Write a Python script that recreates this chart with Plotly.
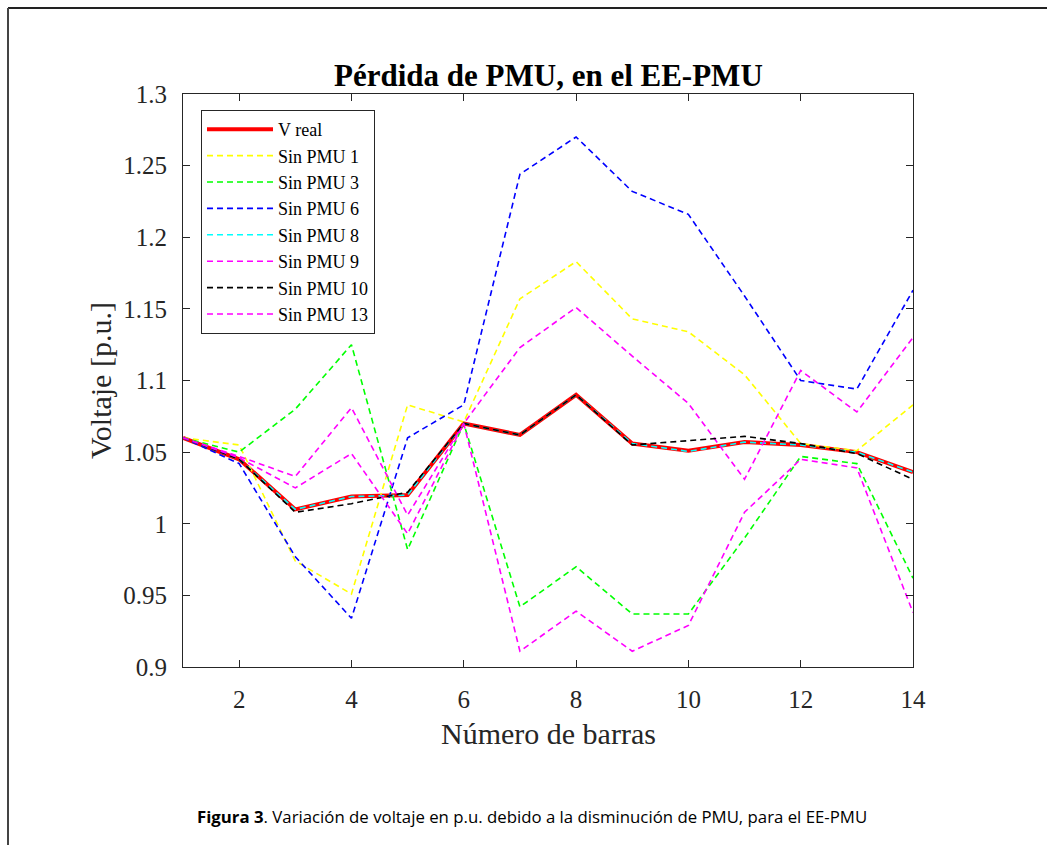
import plotly.graph_objects as go

barras = list(range(1, 15))

v_real     = [1.060, 1.045, 1.010, 1.019, 1.020, 1.070, 1.062, 1.090, 1.056, 1.051, 1.057, 1.055, 1.050, 1.036]
sin_pmu_1  = [1.060, 1.055, 0.974, 0.951, 1.083, 1.071, 1.157, 1.183, 1.143, 1.134, 1.104, 1.056, 1.051, 1.083]
sin_pmu_3  = [1.060, 1.050, 1.080, 1.125, 0.982, 1.070, 0.942, 0.970, 0.937, 0.937, 0.990, 1.047, 1.042, 0.962]
sin_pmu_6  = [1.060, 1.042, 0.977, 0.934, 1.060, 1.083, 1.244, 1.270, 1.232, 1.216, 1.159, 1.100, 1.094, 1.163]
sin_pmu_8  = [1.060, 1.045, 1.010, 1.019, 1.020, 1.070, 1.062, 1.090, 1.056, 1.0505, 1.057, 1.055, 1.050, 1.036]
sin_pmu_9  = [1.060, 1.047, 1.033, 1.081, 1.006, 1.070, 1.123, 1.151, 1.117, 1.084, 1.031, 1.107, 1.078, 1.130]
sin_pmu_10 = [1.060, 1.045, 1.008, 1.014, 1.022, 1.070, 1.062, 1.090, 1.055, 1.058, 1.061, 1.056, 1.049, 1.031]
sin_pmu_13 = [1.060, 1.046, 1.025, 1.049, 0.993, 1.070, 0.911, 0.939, 0.911, 0.929, 1.008, 1.045, 1.039, 0.938]

series_names = ["V real", "Sin PMU 1", "Sin PMU 3", "Sin PMU 6", "Sin PMU 8",
                "Sin PMU 9", "Sin PMU 10", "Sin PMU 13"]
series_values = [v_real, sin_pmu_1, sin_pmu_3, sin_pmu_6, sin_pmu_8,
                 sin_pmu_9, sin_pmu_10, sin_pmu_13]
series_colors = ["#ff0000", "#ffff00", "#00ff00", "#0000ff", "#00ffff",
                 "#ff00ff", "#000000", "#ff00ff"]

y_tickvals = [0.9, 0.95, 1.0, 1.05, 1.1, 1.15, 1.2, 1.25, 1.3]
y_ticktext = ["0.9", "0.95", "1", "1.05", "1.1", "1.15", "1.2", "1.25", "1.3"]
x_tickvals = [2, 4, 6, 8, 10, 12, 14]

W, H = 1047, 845
L, R, T, B = 183, 134, 94, 178
pw, ph = W - L - R, H - T - B

def px2paper_x(px):
    return (px - L) / pw

def px2paper_y(py):
    return (H - B - py) / ph

serif = "Liberation Serif, Times New Roman, serif"
axis_col = "#262626"

fig = go.Figure()
for name, vals, col in zip(series_names, series_values, series_colors):
    if name == "V real":
        line = dict(color=col, width=4, dash="solid")
    else:
        line = dict(color=col, width=1.6, dash="6px,4px")
    fig.add_trace(go.Scatter(x=barras, y=vals, mode="lines", name=name, line=line))

axis_common = dict(
    showgrid=False, zeroline=False, showline=True, linecolor=axis_col, linewidth=1,
    mirror="allticks", ticks="inside", ticklen=7, tickcolor=axis_col,
    tickfont=dict(family=serif, size=25, color=axis_col),
)

fig.update_layout(
    width=W, height=H,
    margin=dict(l=L, r=R, t=T, b=B, pad=0),
    paper_bgcolor="white", plot_bgcolor="white",
    showlegend=True,
    legend=dict(
        x=px2paper_x(201), y=px2paper_y(110), xanchor="left", yanchor="top",
        bgcolor="white", bordercolor="#262626", borderwidth=1,
        font=dict(family=serif, size=18, color="black"),
        tracegroupgap=0, itemwidth=66,
    ),
    xaxis=dict(range=[1, 14], tickvals=x_tickvals, ticklabelstandoff=10, **axis_common),
    yaxis=dict(range=[0.9, 1.3], tickvals=y_tickvals, ticktext=y_ticktext,
               ticklabelstandoff=10, **axis_common),
)

annotations = [
    dict(text="<b>Pérdida de PMU, en el EE-PMU</b>", x=0.5, y=px2paper_y(75),
         xref="paper", yref="paper", showarrow=False, xanchor="center", yanchor="middle",
         font=dict(family=serif, size=31, color="black")),
    dict(text="Número de barras", x=0.5, y=px2paper_y(733),
         xref="paper", yref="paper", showarrow=False, xanchor="center", yanchor="middle",
         font=dict(family=serif, size=30, color=axis_col)),
    dict(text="Voltaje [p.u.]", x=px2paper_x(100), y=px2paper_y(381),
         xref="paper", yref="paper", showarrow=False, xanchor="center", yanchor="middle",
         textangle=-90, font=dict(family=serif, size=30, color=axis_col)),
    dict(text="<b>Figura 3</b>. Variación de voltaje en p.u. debido a la disminución de PMU, para el EE-PMU",
         x=px2paper_x(532), y=px2paper_y(816),
         xref="paper", yref="paper", showarrow=False, xanchor="center", yanchor="middle",
         font=dict(family="Open Sans, Noto Sans, sans-serif", size=16.8, color="black")),
]
fig.update_layout(annotations=annotations)

fig.add_shape(type="line", xref="paper", yref="paper",
              x0=px2paper_x(8), x1=px2paper_x(1050), y0=px2paper_y(8), y1=px2paper_y(8),
              line=dict(color="#222222", width=2))
fig.add_shape(type="line", xref="paper", yref="paper",
              x0=px2paper_x(8), x1=px2paper_x(8), y0=px2paper_y(8), y1=px2paper_y(850),
              line=dict(color="#444444", width=2))

fig.write_html("out.html")
